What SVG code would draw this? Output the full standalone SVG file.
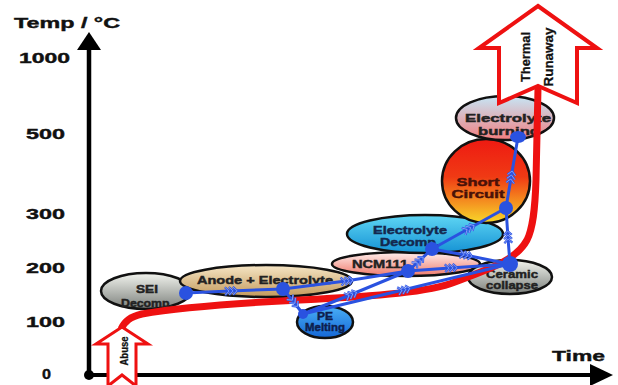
<svg xmlns="http://www.w3.org/2000/svg" width="618" height="385" viewBox="0 0 618 385">
<defs>
<style>
.lbl{font-family:"Liberation Sans",Arial,sans-serif;font-weight:bold;fill:#111;stroke:#111;stroke-width:0.4;font-size:15px}
.nt{font-family:"Liberation Sans",Arial,sans-serif;font-weight:bold;font-size:11.5px;text-anchor:middle;stroke-width:0.45}
.ell{stroke:#111;stroke-width:2.5}
.edge{fill:none;stroke:#2a52e0;stroke-width:3;marker-mid:url(#chev)}
.dot{fill:#2a52e0}
.big{fill:#fff;stroke:#ee1111;stroke-linejoin:miter}
</style>
<marker id="chev" markerUnits="userSpaceOnUse" markerWidth="16" markerHeight="12" refX="5" refY="0" viewBox="-2 -6 16 12" orient="auto" overflow="visible">
<path d="M0,-4 L4,0 L0,4 M4,-4 L8,0 L4,4 M8,-4 L12,0 L8,4" fill="none" stroke="#2a52e0" stroke-width="2.2"/>
<path d="M0,-4 L4,0 L0,4 M4,-4 L8,0 L4,4 M8,-4 L12,0 L8,4" fill="none" stroke="#9fb4ff" stroke-width="0.7"/>
</marker>
<linearGradient id="gGray" x1="0" y1="0" x2="0" y2="1"><stop offset="0" stop-color="#f2f4ee"/><stop offset="1" stop-color="#7c807c"/></linearGradient>
<linearGradient id="gTan" x1="0" y1="0" x2="0" y2="1"><stop offset="0" stop-color="#f6e6c6"/><stop offset="1" stop-color="#c39a5c"/></linearGradient>
<linearGradient id="gPink" x1="0" y1="0" x2="0" y2="1"><stop offset="0" stop-color="#fff0ee"/><stop offset="1" stop-color="#ef7a6c"/></linearGradient>
<linearGradient id="gCyan" x1="0" y1="0" x2="0" y2="1"><stop offset="0" stop-color="#5fd6f4"/><stop offset="1" stop-color="#1592d4"/></linearGradient>
<linearGradient id="gBlue" x1="0" y1="0" x2="0" y2="1"><stop offset="0" stop-color="#4ab0f6"/><stop offset="1" stop-color="#1466d6"/></linearGradient>
<linearGradient id="gFire" x1="0" y1="0" x2="0" y2="1"><stop offset="0" stop-color="#ee1a12"/><stop offset="0.45" stop-color="#f03a14"/><stop offset="1" stop-color="#f8d82a"/></linearGradient>
<linearGradient id="gBurn" x1="0" y1="0" x2="0" y2="1"><stop offset="0" stop-color="#c6e6f6"/><stop offset="1" stop-color="#f27e80"/></linearGradient>
</defs>
<rect width="618" height="385" fill="#fff"/>

<g id="axes">
<line x1="89" y1="375" x2="89" y2="48" stroke="#000" stroke-width="4.5"/>
<polygon points="77,50 101,50 89,32" fill="#000"/>
<line x1="89" y1="375" x2="594" y2="375" stroke="#000" stroke-width="4"/>
<polygon points="590,364 590,386 613,375" fill="#000"/>
<circle cx="89" cy="375" r="5" fill="#000"/>
<text class="lbl" x="14" y="28" textLength="106" lengthAdjust="spacingAndGlyphs">Temp / °C</text>
<text class="lbl" x="19" y="63" textLength="51" lengthAdjust="spacingAndGlyphs">1000</text>
<text class="lbl" x="26" y="139" textLength="39" lengthAdjust="spacingAndGlyphs">500</text>
<text class="lbl" x="26" y="219" textLength="39" lengthAdjust="spacingAndGlyphs">300</text>
<text class="lbl" x="26" y="273" textLength="39" lengthAdjust="spacingAndGlyphs">200</text>
<text class="lbl" x="26" y="327" textLength="39" lengthAdjust="spacingAndGlyphs">100</text>
<text class="lbl" x="42" y="379" textLength="9" lengthAdjust="spacingAndGlyphs">0</text>
<text class="lbl" x="552" y="361" textLength="53" lengthAdjust="spacingAndGlyphs">Time</text>
</g>

<g id="node-sei">
<ellipse class="ell" cx="146" cy="291" rx="45" ry="18" fill="url(#gGray)"/>
<text class="nt" x="147" y="293" fill="#222" stroke="#222" textLength="22" lengthAdjust="spacingAndGlyphs">SEI</text>
<text class="nt" x="147" y="307" fill="#222" stroke="#222" textLength="52" lengthAdjust="spacingAndGlyphs">Decomp.</text>
</g>
<g id="node-anode">
<ellipse class="ell" cx="266" cy="281" rx="86" ry="16" fill="url(#gTan)"/>
<text class="nt" x="265" y="284" fill="#222" stroke="#222" textLength="136" lengthAdjust="spacingAndGlyphs">Anode + Electrolyte</text>
</g>
<g id="node-ncm">
<ellipse class="ell" cx="406" cy="264" rx="74" ry="12" fill="url(#gPink)"/>
<text class="nt" x="380" y="268" fill="#222" stroke="#222" textLength="56" lengthAdjust="spacingAndGlyphs">NCM111</text>
</g>
<g id="node-eldecomp">
<ellipse class="ell" cx="425" cy="234" rx="78" ry="19" fill="url(#gCyan)"/>
<text class="nt" x="410" y="234" fill="#14284e" stroke="#14284e" textLength="74" lengthAdjust="spacingAndGlyphs">Electrolyte</text>
<text class="nt" x="410" y="246" fill="#14284e" stroke="#14284e" textLength="60" lengthAdjust="spacingAndGlyphs">Decomp.</text>
</g>
<g id="node-ceramic">
<ellipse class="ell" cx="510" cy="277" rx="42" ry="17" fill="url(#gGray)"/>
<text class="nt" x="512" y="278" fill="#222" stroke="#222" textLength="52" lengthAdjust="spacingAndGlyphs">Ceramic</text>
<text class="nt" x="512" y="289" fill="#222" stroke="#222" textLength="52" lengthAdjust="spacingAndGlyphs">collapse</text>
</g>
<g id="node-pe">
<ellipse class="ell" cx="325" cy="322" rx="28" ry="16" fill="url(#gBlue)"/>
<text class="nt" x="325" y="320" fill="#0e1e4e" stroke="#0e1e4e" font-size="10" textLength="16" lengthAdjust="spacingAndGlyphs">PE</text>
<text class="nt" x="325" y="331" fill="#0e1e4e" stroke="#0e1e4e" font-size="10" textLength="40" lengthAdjust="spacingAndGlyphs">Melting</text>
</g>
<g id="node-short">
<ellipse class="ell" cx="486" cy="181" rx="44" ry="42" fill="url(#gFire)"/>
<text class="nt" x="478" y="186" fill="#4a1208" stroke="#4a1208" font-size="12.5" textLength="43" lengthAdjust="spacingAndGlyphs">Short</text>
<text class="nt" x="478" y="198" fill="#4a1208" stroke="#4a1208" font-size="12.5" textLength="53" lengthAdjust="spacingAndGlyphs">Circuit</text>
</g>
<g id="node-burn">
<ellipse class="ell" cx="505" cy="118" rx="49" ry="22" fill="url(#gBurn)"/>
<text class="nt" x="508" y="122" fill="#222" stroke="#222" font-size="12.5" textLength="86" lengthAdjust="spacingAndGlyphs">Electrolyte</text>
<text class="nt" x="509" y="135" fill="#222" stroke="#222" font-size="12.5" textLength="62" lengthAdjust="spacingAndGlyphs">burning</text>
</g>

<g id="temperature-curve">
<path d="M121,329 C125,321 130,317 142,314 C170,309 220,304 300,300 C380,296 430,292 455,282 C485,270 515,262 527,240 C533,228 535,210 536,180 L538,88" fill="none" stroke="#ee1111" stroke-width="7" stroke-linejoin="round"/>
</g>

<g id="node-thermal-runaway">
<polygon class="big" stroke-width="4" points="538,6 597,48 577,48 577,103 538,86 499,103 499,48 479,48"/>
<text transform="translate(530,57) rotate(-90)" x="0" y="0" text-anchor="middle" font-family="'Liberation Sans Narrow','Liberation Sans',Arial,sans-serif" font-weight="bold" font-size="13.5" fill="#111" stroke="#111" stroke-width="0.3" textLength="50" lengthAdjust="spacingAndGlyphs">Thermal</text>
<text transform="translate(553,57) rotate(-90)" x="0" y="0" text-anchor="middle" font-family="'Liberation Sans Narrow','Liberation Sans',Arial,sans-serif" font-weight="bold" font-size="13.5" fill="#111" stroke="#111" stroke-width="0.3" textLength="59" lengthAdjust="spacingAndGlyphs">Runaway</text>
</g>
<g id="node-abuse">
<polygon class="big" stroke-width="3" points="122,327 148,344 136,344 136,386 122,375 108,386 108,344 96,344"/>
<text transform="translate(128,351) rotate(-90)" x="0" y="0" text-anchor="middle" font-family="'Liberation Sans',Arial,sans-serif" font-weight="bold" font-size="10.5" fill="#111" stroke="#111" stroke-width="0.3" textLength="29" lengthAdjust="spacingAndGlyphs">Abuse</text>
</g>

<g id="connectors">
<path class="edge" d="M186,293 L230,291 L283,289"/>
<path class="edge" d="M283,289 L346,281 L408,271"/>
<path class="edge" d="M283,289 L293,301 L303,314"/>
<path class="edge" d="M303,314 L350,295 L408,271"/>
<path class="edge" d="M303,314 L403,290 L510,264"/>
<path class="edge" d="M408,271 L418,262 L432,249"/>
<path class="edge" d="M408,271 L450,268 L510,264"/>
<path class="edge" d="M432,249 L465,255 L510,264"/>
<path class="edge" d="M432,249 L468,229 L506,208"/>
<path class="edge" d="M510,264 L508,238 L506,208"/>
<path class="edge" d="M506,208 L511,178 L518,137"/>
<circle class="dot" cx="186" cy="293" r="7"/>
<circle class="dot" cx="283" cy="289" r="7"/>
<circle class="dot" cx="303" cy="314" r="5"/>
<circle class="dot" cx="408" cy="271" r="7"/>
<circle class="dot" cx="432" cy="249" r="7"/>
<circle class="dot" cx="510" cy="264" r="8"/>
<circle class="dot" cx="506" cy="208" r="7"/>
<ellipse class="dot" cx="518" cy="137" rx="8" ry="6"/>
</g>
</svg>
